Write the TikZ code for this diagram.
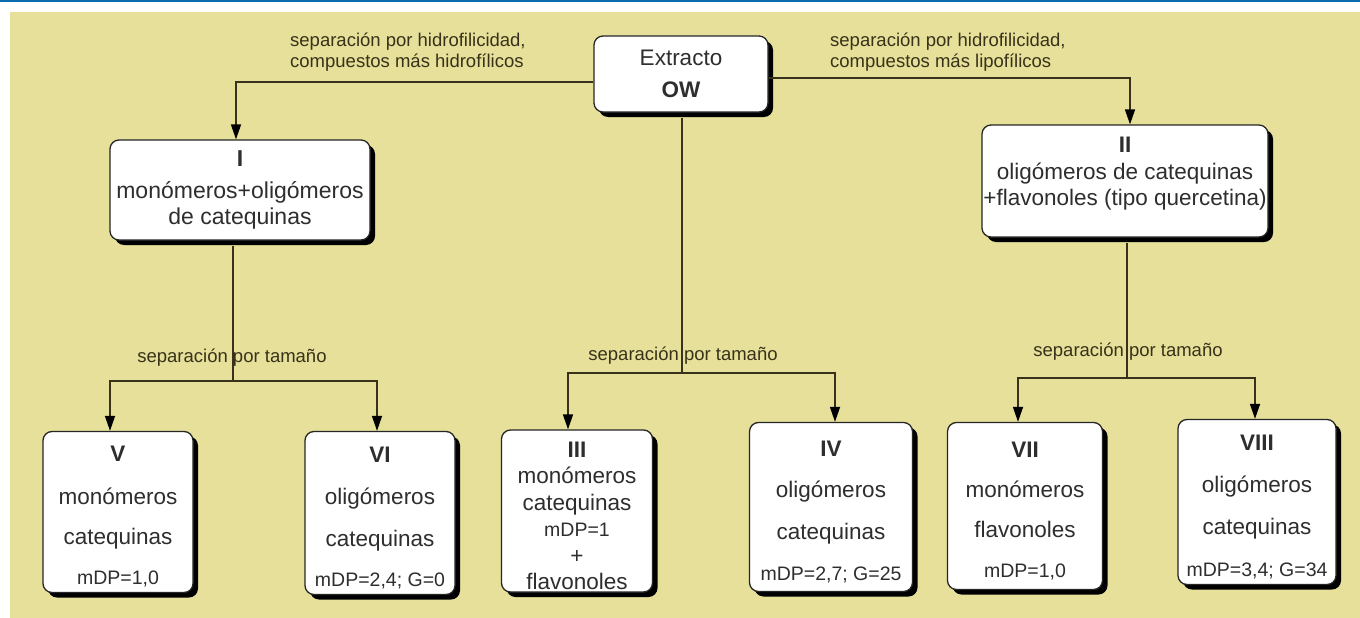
\documentclass[tikz,border=0pt]{standalone}
\usepackage{fontspec}
\setmainfont{Liberation Sans}
\usetikzlibrary{arrows.meta,shadows}
\definecolor{bg}{HTML}{E6E09A}
\definecolor{topblue}{HTML}{0B6DB0}
\definecolor{ln}{HTML}{38321A}
\definecolor{tx}{HTML}{2E2E2E}
\newcommand{\tpad}{\rule{0pt}{25pt}}
\begin{document}
\begin{tikzpicture}[x=1pt,y=-1pt,
  box/.style={draw=black!85, line width=1.3pt, fill=white, rounded corners=9pt, inner sep=0pt,
    align=center, text=tx,
    drop shadow={shadow xshift=5pt, shadow yshift=-5pt, fill=black, opacity=1}},
  bigtxt/.style={font=\fontsize{22.5}{40}\selectfont},
  lab/.style={text=ln, font=\fontsize{18.5}{20.5}\selectfont, inner sep=0pt},
  conn/.style={draw=ln, line width=1.6pt},
  arr/.style={conn, -{Triangle[length=15pt,width=10pt,color=black]}},
]
\useasboundingbox (0,0) rectangle (1360,618);
\fill[white] (0,0) rectangle (1360,618);
\fill[topblue] (0,0) rectangle (1360,2.5);
\fill[bg] (10,12) rectangle (1360,618);

% top level
\node[box, minimum width=174pt, minimum height=76pt, font=\fontsize{22.5}{32}\selectfont] (OW) at (681,74) {Extracto\\\textbf{OW}};
\node[box, minimum width=260pt, minimum height=100pt, font=\fontsize{23}{26}\selectfont] (I) at (240,190)
  {\textbf{I}\\[6pt]monómeros+oligómeros\\de catequinas};
\node[box, minimum width=286pt, minimum height=112pt, font=\fontsize{22.5}{26.5}\selectfont] (II) at (1125,181)
  {\textbf{II}\\oligómeros de catequinas\\+flavonoles (tipo quercetina)\\[-8pt]\mbox{}};

% bottom level
\node[box, bigtxt, minimum width=150pt, minimum height=161pt] (V) at (118,512)
  {\tpad\textbf{V}\\[3pt]monómeros\\catequinas\\{\fontsize{19.5}{39}\selectfont mDP=1,0}};
\node[box, bigtxt, minimum width=150pt, minimum height=163pt] (VI) at (380,513)
  {\tpad\textbf{VI}\\[2pt]oligómeros\\[2pt]catequinas\\{\fontsize{19.5}{40}\selectfont mDP=2,4; G=0}};
\node[box, font=\fontsize{22.5}{26.5}\selectfont, minimum width=151pt, minimum height=162pt] (III) at (577,511)
  {\tpad\textbf{III}\\monómeros\\catequinas\\{\fontsize{19.5}{26.5}\selectfont mDP=1}\\+\\flavonoles};
\node[box, font=\fontsize{22.5}{41.5}\selectfont, minimum width=163pt, minimum height=169pt] (IV) at (831,507)
  {\tpad\textbf{IV}\\oligómeros\\catequinas\\{\fontsize{19.5}{41.5}\selectfont mDP=2,7; G=25}};
\node[box, bigtxt, minimum width=155pt, minimum height=167pt] (VII) at (1025,506)
  {\tpad\textbf{VII}\\monómeros\\flavonoles\\{\fontsize{19.5}{40}\selectfont mDP=1,0}};
\node[box, font=\fontsize{22.5}{42}\selectfont, minimum width=158pt, minimum height=165pt] (VIII) at (1257,502)
  {\tpad\textbf{VIII}\\oligómeros\\catequinas\\{\fontsize{19.5}{42}\selectfont mDP=3,4; G=34}};

% bus coordinates
\coordinate (bl) at (233,381);
\coordinate (bm) at (682,373);
\coordinate (br) at (1127,378);

% connectors
\draw[arr] ([yshift=-8pt]OW.west) -| ([xshift=-4pt]I.north);
\draw[arr] ([yshift=-4pt]OW.east) -| ([xshift=5pt]II.north);

\draw[conn] ([xshift=-7pt,yshift=-5pt]I.south) -- (bl);
\draw[arr] (bl) -| ([xshift=-8pt]V.north);
\draw[arr] (bl) -| ([xshift=-3pt]VI.north);

\draw[conn] ([xshift=1pt,yshift=-5pt]OW.south) -- (bm);
\draw[arr] (bm) -| ([xshift=-9pt]III.north);
\draw[arr] (bm) -| ([xshift=4pt]IV.north);

\draw[conn] ([xshift=2pt,yshift=-5pt]II.south) -- (br);
\draw[arr] (br) -| ([xshift=-7pt]VII.north);
\draw[arr] (br) -| ([xshift=-2pt]VIII.north);

% labels
\node[lab, anchor=west, align=left] (l1) at (290,52) {separación por hidrofilicidad,\\compuestos más hidrofílicos};
\node[lab, anchor=west, align=left] (l2) at (830,52) {separación por hidrofilicidad,\\compuestos más lipofílicos};
\node[lab] (l3) at (232,358) {separación por tamaño};
\node[lab] (l4) at (683,356) {separación por tamaño};
\node[lab] (l5) at (1128,352) {separación por tamaño};
\end{tikzpicture}
\end{document}
